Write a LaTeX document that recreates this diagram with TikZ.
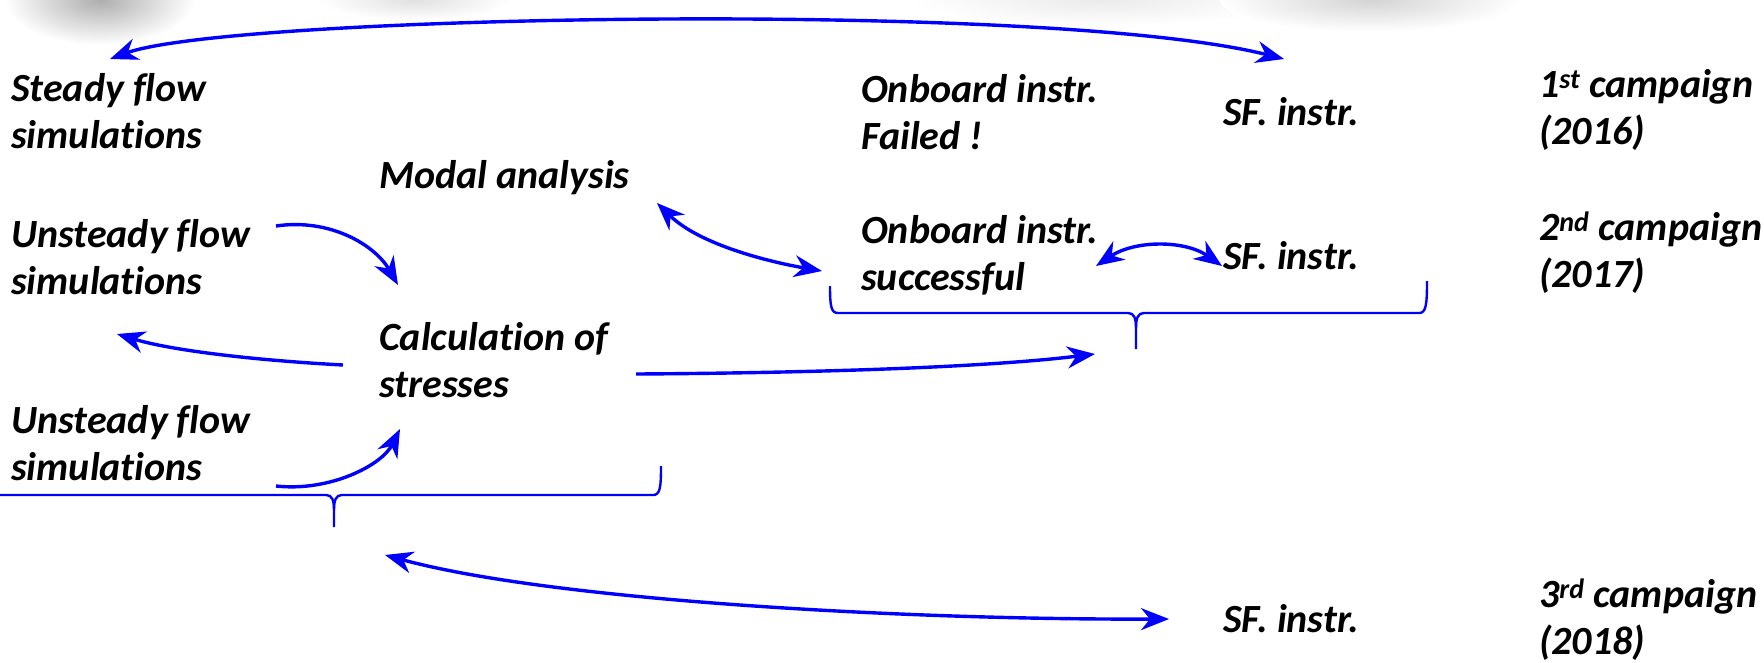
\documentclass[tikz,border=0pt]{standalone}
\usepackage{fontspec}
\setmainfont{Carlito}[Ligatures={NoCommon,NoRequired,NoContextual}]
\usetikzlibrary{arrows.meta}
\definecolor{arrblue}{RGB}{0,0,255}
\tikzset{
  lbl/.style={anchor=west, align=left, inner sep=0pt,
    font=\fontsize{40}{47}\selectfont\bfseries\itshape},
  conn/.style={draw=arrblue, line width=3.4pt,
    arrows={-Stealth[length=28pt,width=22pt,inset=9pt]}},
  biconn/.style={conn, arrows={Stealth[length=28pt,width=22pt,inset=9pt]-Stealth[length=28pt,width=22pt,inset=9pt]}},
  bracepath/.style={draw=arrblue, line width=2.4pt}
}
\begin{document}
\begin{tikzpicture}[x=1pt,y=-1pt]
\useasboundingbox (0,0) rectangle (1764,662);
% blurred shadows at the top
\shade[inner color=black!32, outer color=white] (100,0) ellipse [x radius=95pt, y radius=45pt];
\shade[inner color=black!12, outer color=white] (415,0) ellipse [x radius=95pt, y radius=20pt];
\shade[inner color=black!8, outer color=white] (1100,0) ellipse [x radius=190pt, y radius=26pt];
\shade[inner color=black!17, outer color=white] (1370,0) ellipse [x radius=150pt, y radius=32pt];

% text nodes
\node[lbl] (steady)  at (11,111)  {Steady flow\\simulations};
\node[lbl] (modal)   at (379,178) {Modal analysis};
\node[lbl] (failed)  at (861,112) {Onboard instr.\\Failed !};
\node[lbl] (sfa)     at (1223,112) {SF. instr.};
\node[lbl] (campa)   at (1539,110) {1\textsuperscript{st} campaign\\(2016)};
\node[lbl] (unsta)   at (11,257)  {Unsteady flow\\simulations};
\node[lbl] (success) at (861,255) {Onboard instr.\\successful};
\node[lbl] (sfb)     at (1223,256) {SF. instr.};
\node[lbl] (campb)   at (1539,253) {2\textsuperscript{nd} campaign\\(2017)};
\node[lbl] (calc)    at (379,360) {Calculation of\\stresses};
\node[lbl] (unstb)   at (11,443)  {Unsteady flow\\simulations};
\node[lbl] (sfc)     at (1223,619) {SF. instr.};
\node[lbl] (campc)   at (1539,620) {3\textsuperscript{rd} campaign\\(2018)};

% connector end points
\coordinate (topL) at (110,59);
\coordinate (topR) at (1284,59);
\coordinate (uaS) at (276,226);
\coordinate (uaE) at (398,285);
\coordinate (clS) at (343,365);
\coordinate (clE) at (117,334);
\coordinate (ubS) at (276,486);
\coordinate (ubE) at (400,429);
\coordinate (moS) at (657,203);
\coordinate (moE) at (822,271);
\coordinate (suS) at (1096,266);
\coordinate (suE) at (1222,266);
\coordinate (crS) at (636,374);
\coordinate (crE) at (1095,354);
\coordinate (btS) at (385,555);
\coordinate (btE) at (1169,619);

% braces
\coordinate (baL) at (830,286);
\coordinate (baR) at (1427,281);
\coordinate (baT) at (1136,349);
\draw[bracepath] (baL) .. controls (830,306) and (831,313) .. (838,313)
  -- (1128,313) .. controls (1134,313) and (1136,318) .. (1136,328) -- (baT);
\draw[bracepath] (baR) .. controls (1427,305) and (1426,313) .. (1419,313)
  -- (1144,313) .. controls (1138,313) and (1136,318) .. (1136,328);
\coordinate (bbR) at (661,466);
\coordinate (bbT) at (334,527);
\draw[bracepath] (0,495) -- (326,495) .. controls (332,495) and (334,500) .. (334,510) -- (bbT);
\draw[bracepath] (bbR) .. controls (661,488) and (660,495) .. (653,495)
  -- (342,495) .. controls (336,495) and (334,500) .. (334,510);

% connectors
\draw[biconn] (topL) .. controls (230,15) and (1050,0) .. (topR);
\draw[conn] (uaS) .. controls (330,218) and (375,245) .. (uaE);
\draw[conn] (clS) .. controls (250,360) and (170,350) .. (clE);
\draw[conn] (ubS) .. controls (330,492) and (382,465) .. (ubE);
\draw[biconn] (moS) .. controls (700,245) and (770,262) .. (moE);
\draw[biconn] (suS) .. controls (1135,240) and (1185,240) .. (suE);
\draw[conn] (crS) .. controls (800,373) and (980,368) .. (crE);
\draw[biconn] (btS) .. controls (550,600) and (900,620) .. (btE);
\end{tikzpicture}
\end{document}
